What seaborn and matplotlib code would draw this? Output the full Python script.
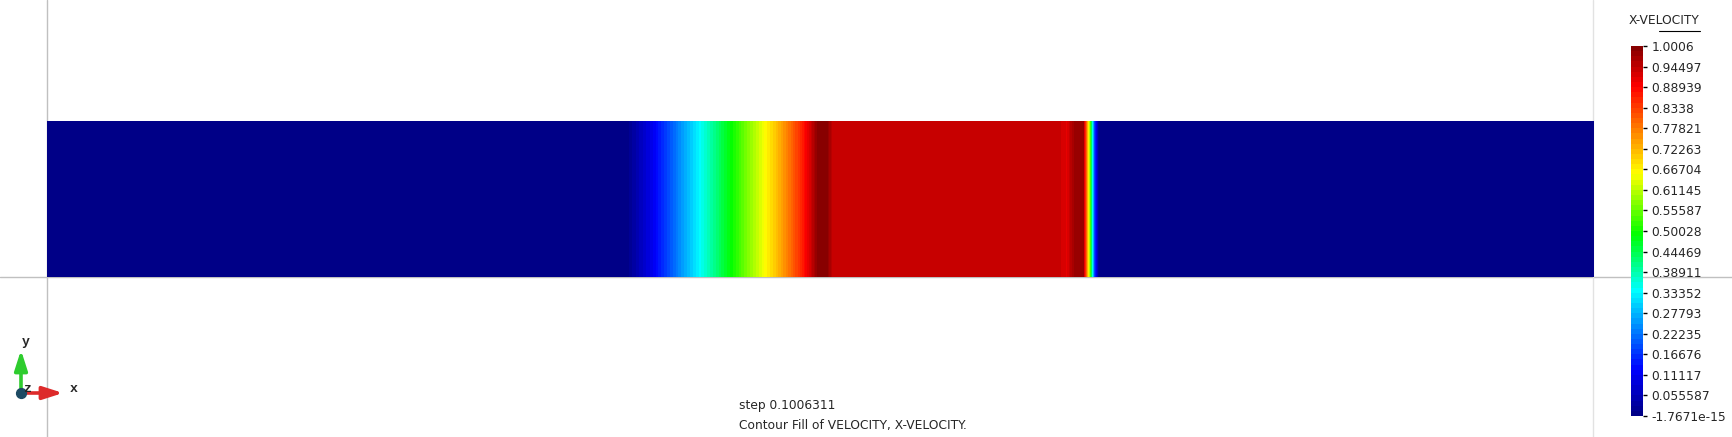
import numpy as np
import matplotlib
matplotlib.use("Agg")
import matplotlib.pyplot as plt
from matplotlib.colors import LinearSegmentedColormap
import seaborn as sns

sns.set_theme(style="white")
plt.rcParams["font.family"] = ["DejaVu Sans"]

# x-velocity profile along the tube, domain 0..1 x 0..0.1
x_pos = [0.0, 0.374, 0.39, 0.41, 0.43, 0.45, 0.47, 0.485, 0.493, 0.498,
         0.504, 0.508, 0.52, 0.655, 0.659, 0.664, 0.670, 0.674, 0.677, 0.680, 1.0]
u_vals = [0.0, 0.0, 0.10, 0.25, 0.40, 0.55, 0.70, 0.83, 0.92, 0.995,
          0.995, 0.94, 0.935, 0.935, 0.915, 0.975, 0.975, 0.60, 0.20, 0.0, 0.0]
y_pos = [0.0, 0.1]

v_min = -1.7671e-15
v_max = 1.0006
n_levels = 72
tick_labels = ["-1.7671e-15", "0.055587", "0.11117", "0.16676", "0.22235",
               "0.27793", "0.33352", "0.38911", "0.44469", "0.50028", "0.55587",
               "0.61145", "0.66704", "0.72263", "0.77821", "0.8338", "0.88939",
               "0.94497", "1.0006"]

# rainbow used by the post-processor (navy -> blue -> cyan -> green -> yellow -> red -> dark red)
cmap_stops = [0.0, 0.125, 0.34, 0.49, 0.655, 0.89, 1.0]
cmap_colors = ["#000080", "#0000ff", "#00ffff", "#00ff00", "#ffff00", "#ff0000", "#800000"]

W, H = 1732, 437
fig = plt.figure(figsize=(W / 100, H / 100), dpi=100)
fig.patch.set_facecolor("white")

# overlay in pixel coordinates for guide lines, triad and captions
ov = fig.add_axes([0, 0, 1, 1])
ov.set_xlim(0, W)
ov.set_ylim(H, 0)
ov.axis("off")
ov.plot([47, 47], [0, H], color="#c0c0c0", lw=1.0)
ov.plot([0, W], [277, 277], color="#c0c0c0", lw=1.0)
ov.plot([1593, 1593], [0, H], color="#e2e2e2", lw=1.0)

# axis triad
arrow_style = "-|>,head_width=0.32,head_length=1.0"
ov.annotate("", xy=(21, 350), xytext=(21, 393),
            arrowprops=dict(arrowstyle=arrow_style, color="#2ecc2e", lw=2.6,
                            shrinkA=0, shrinkB=0))
ov.annotate("", xy=(63, 393), xytext=(21, 393),
            arrowprops=dict(arrowstyle=arrow_style, color="#dd2a2a", lw=2.6,
                            shrinkA=0, shrinkB=0))
ov.scatter([21], [393], s=50, color="#1d4a63", zorder=5)
triad_font = dict(fontsize=9.5, family="Liberation Mono", fontweight="bold",
                  ha="center", va="center", zorder=6)
ov.text(26, 342, "y", **triad_font)
ov.text(74, 389, "x", **triad_font)
ov.text(27, 389, "z", **triad_font)

ov.text(739, 406, "step 0.1006311", fontsize=8.8, ha="left", va="center")
ov.text(739, 426, "Contour Fill of VELOCITY, X-VELOCITY.", fontsize=8.8,
        ha="left", va="center")

ov.text(1664, 21, "X-VELOCITY", fontsize=8.8, ha="center", va="center")
ov.plot([1659, 1700], [31, 31], color="black", lw=0.8)

# contour fill band
ax = fig.add_axes([47 / W, 1 - 277 / H, 1547 / W, 156 / H])
X, Y = np.meshgrid(x_pos, y_pos)
Z = np.vstack([u_vals, u_vals])
levels = np.linspace(v_min, v_max, n_levels + 1)
cmap = LinearSegmentedColormap.from_list("gid_rainbow", list(zip(cmap_stops, cmap_colors)), N=1024)
cs = ax.contourf(X, Y, Z, levels=levels, cmap=cmap, antialiased=False)
ax.set_xlim(0, 1)
ax.set_ylim(0, 0.1)
ax.axis("off")

# colour bar
cax = fig.add_axes([1631 / W, 1 - 416 / H, 12 / W, 370 / H])
cb = fig.colorbar(cs, cax=cax)
cb.outline.set_visible(False)
cb.set_ticks(np.linspace(v_min, v_max, len(tick_labels)))
cb.set_ticklabels(tick_labels)
cax.tick_params(axis="y", length=3, width=1, color="black", pad=3,
                labelsize=8.8, right=True, left=False)

fig.savefig("out.png", dpi=100, facecolor="white")
